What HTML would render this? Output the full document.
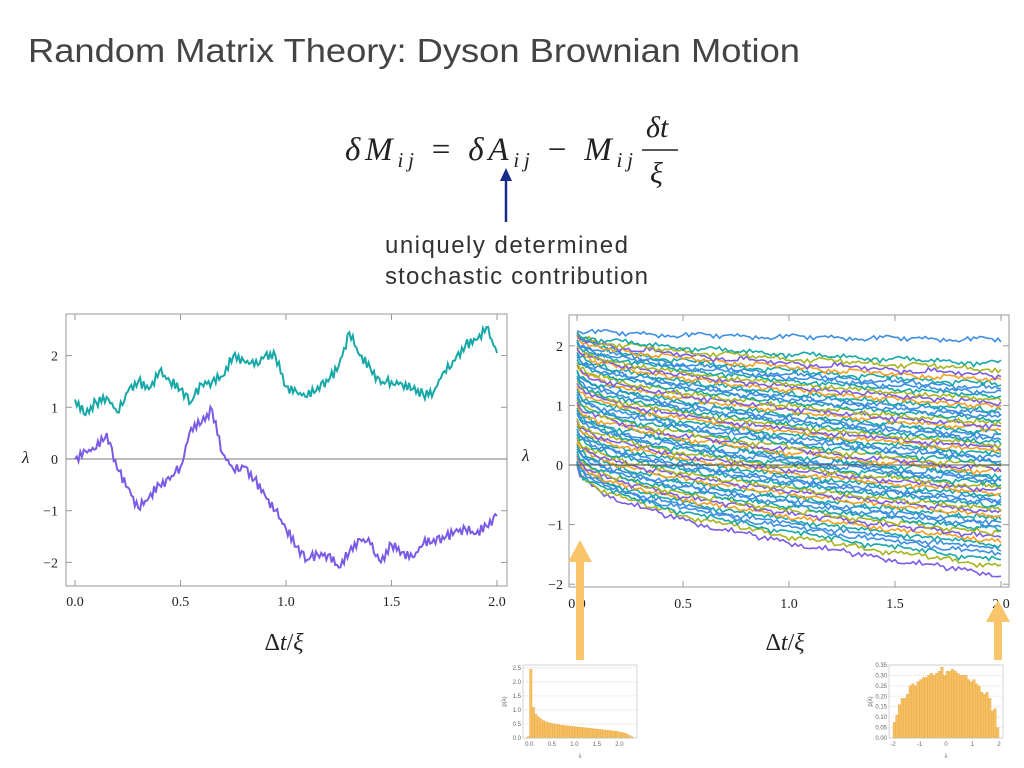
<!DOCTYPE html>
<html><head><meta charset="utf-8"><style>
html,body{margin:0;padding:0;background:#fff;width:1024px;height:768px;overflow:hidden}
svg{display:block}
.tk{font-family:"Liberation Serif",serif;font-size:14px;fill:#222}
.htk{font-family:"Liberation Sans",sans-serif;font-size:6px;fill:#666}
</style></head><body>
<svg id="s" width="1024" height="768">
<text x="28" y="62" font-family="Liberation Sans, sans-serif" font-size="33" fill="#444" textLength="772" lengthAdjust="spacingAndGlyphs">Random Matrix Theory:  Dyson Brownian Motion</text>
<text x="345" y="160" font-family="Liberation Serif, serif" font-size="33" font-style="italic" fill="#222" textLength="288">δM<tspan font-size="21" dy="7">ij</tspan><tspan dy="-7" font-style="normal"> = </tspan>δA<tspan font-size="21" dy="7">ij</tspan><tspan dy="-7" font-style="normal"> − </tspan>M<tspan font-size="21" dy="7">ij</tspan></text>
<text x="646" y="137" font-family="Liberation Serif, serif" font-size="30" font-style="italic" fill="#222">δt</text>
<line x1="642" y1="150" x2="678" y2="150" stroke="#222" stroke-width="1.5"/>
<text x="650" y="183" font-family="Liberation Serif, serif" font-size="30" font-style="italic" fill="#222">ξ</text>
<g><line x1="506" y1="222" x2="506" y2="180" stroke="#1a2a8a" stroke-width="2.5"/><polygon points="500,181 512,181 506,168" fill="#1a2a8a"/></g>
<text x="385" y="253" font-family="Liberation Sans, sans-serif" font-size="24" fill="#333" textLength="243">uniquely determined</text>
<text x="385" y="284" font-family="Liberation Sans, sans-serif" font-size="24" fill="#333" textLength="263">stochastic contribution</text>
<g id="L"></g>
<g id="R"></g>
<g id="H1"></g>
<g id="H2"></g>
<g><rect x="576" y="560" width="8" height="100" fill="#f8c56a"/><polygon points="568,562 592,562 580,540" fill="#f8c56a"/></g>
<g><rect x="994" y="620" width="8" height="40" fill="#f8c56a"/><polygon points="986,622 1010,622 998,600" fill="#f8c56a"/></g>
</svg>
<script>
const NS="http://www.w3.org/2000/svg";
const tGrid=[0,0.05,0.1,0.15,0.2,0.25,0.3,0.35,0.4,0.45,0.5,0.55,0.6,0.65,0.7,0.75,0.8,0.85,0.9,0.95,1.0,1.05,1.1,1.15,1.2,1.25,1.3,1.35,1.4,1.45,1.5,1.55,1.6,1.65,1.7,1.75,1.8,1.85,1.9,1.95,2.0];
const tealVals=[1.15,0.85,1.1,1.2,0.9,1.3,1.5,1.35,1.7,1.5,1.35,1.1,1.45,1.5,1.6,2.0,1.9,1.8,2.0,2.0,1.4,1.3,1.2,1.4,1.5,1.8,2.45,2.0,1.75,1.45,1.5,1.45,1.35,1.25,1.3,1.7,1.9,2.2,2.3,2.55,2.05];
const purpleVals=[0,0.15,0.2,0.5,-0.2,-0.55,-0.95,-0.75,-0.5,-0.4,-0.15,0.6,0.7,0.95,0.1,-0.2,-0.15,-0.4,-0.7,-1.0,-1.35,-1.7,-1.95,-1.85,-1.85,-2.1,-1.8,-1.55,-1.65,-2.0,-1.65,-1.8,-1.9,-1.65,-1.55,-1.55,-1.4,-1.35,-1.45,-1.3,-1.1];
const xTicks=["0.0","0.5","1.0","1.5","2.0"];
const yTicksL=[-2,-1,0,1,2];
const wiggle=[0.06,-0.05,0.09,-0.07,0.03,-0.08,0.05,-0.02,0.07,-0.06,0.02,-0.04,0.08,-0.09,0.04,-0.03,0.06,-0.07,0.01,-0.05,0.09,-0.02,0.05,-0.06,0.03,-0.08,0.07,-0.01,0.04,-0.05,0.02];
const startVals=[0.0,0.01,0.03,0.05,0.07,0.1,0.13,0.16,0.19,0.23,0.27,0.31,0.35,0.39,0.43,0.47,0.52,0.56,0.6,0.65,0.69,0.74,0.78,0.83,0.87,0.92,0.96,1.01,1.05,1.1,1.14,1.19,1.23,1.28,1.32,1.37,1.41,1.46,1.5,1.55,1.59,1.64,1.68,1.72,1.77,1.81,1.85,1.89,1.93,1.97,2.0,2.04,2.07,2.1,2.13,2.16,2.19,2.21,2.23,2.25];
const endVals=[-1.85,-1.7,-1.6,-1.5,-1.42,-1.35,-1.28,-1.21,-1.15,-1.09,-1.03,-0.97,-0.91,-0.86,-0.8,-0.75,-0.69,-0.64,-0.59,-0.53,-0.48,-0.43,-0.38,-0.33,-0.28,-0.23,-0.18,-0.13,-0.08,-0.03,0.03,0.08,0.13,0.18,0.23,0.28,0.33,0.38,0.43,0.48,0.53,0.59,0.64,0.69,0.75,0.8,0.86,0.91,0.97,1.03,1.09,1.15,1.21,1.28,1.35,1.42,1.5,1.6,1.7,2.1];
const palette=["#7b5be6","#18a8a8","#3d8ee0","#a6b41e","#f4a020","#3d8ee0","#18a8a8"];
const hist1Vals=[0.05,2.45,1.1,0.85,0.75,0.68,0.62,0.58,0.55,0.53,0.51,0.49,0.48,0.46,0.45,0.44,0.43,0.42,0.41,0.40,0.39,0.38,0.37,0.36,0.35,0.34,0.33,0.32,0.31,0.30,0.29,0.28,0.27,0.26,0.25,0.24,0.22,0.2,0.18,0.15,0.1,0.05];
const hist2Vals=[0.075,0.11,0.16,0.19,0.19,0.21,0.25,0.26,0.25,0.27,0.28,0.29,0.29,0.3,0.31,0.3,0.31,0.32,0.34,0.3,0.32,0.32,0.33,0.32,0.31,0.3,0.3,0.3,0.28,0.27,0.28,0.26,0.25,0.22,0.21,0.22,0.19,0.13,0.14,0.05];

function el(tag,attrs,parent){const e=document.createElementNS(NS,tag);for(const k in attrs)e.setAttribute(k,attrs[k]);parent.appendChild(e);return e;}
function frame(g,x0,y0,x1,y1){
  const f=el("rect",{x:x0,y:y0,width:x1-x0,height:y1-y0,fill:"none",stroke:"#999","stroke-width":1},g);
  
  
}

(function(){
  const g=document.getElementById("L");
  const X=t=>75+t*(497-75)/2, Y=v=>459-v*51.7;
  frame(g,66,314,507,586);
  for(let i=0;i<xTicks.length;i++){
    const x=X(+xTicks[i]);
    el("line",{x1:x,y1:586,x2:x,y2:580,stroke:"#999"},g);el("line",{x1:x,y1:314,x2:x,y2:320,stroke:"#999"},g);
    const t=el("text",{x:x,y:606,"text-anchor":"middle",class:"tk"},g);t.textContent=xTicks[i];
    
    
  }
  for(const v of yTicksL){
    const y=Y(v);
    el("line",{x1:66,y1:y,x2:72,y2:y,stroke:"#999"},g);el("line",{x1:507,y1:y,x2:501,y2:y,stroke:"#999"},g);
    const t=el("text",{x:58,y:y+5,"text-anchor":"end",class:"tk"},g);t.textContent=v<0?"−"+(-v):v;
    
    
  }
  const z=el("line",{x1:66,y1:Y(0),x2:507,y2:Y(0),stroke:"#777"},g);
  
  
  function series(vals,col,name,off){
    let d="";
    for(let i=0;i<vals.length;i++){
      const sub=i<vals.length-1?6:1;
      for(let k=0;k<sub;k++){
        const f=k/6; const t=tGrid[i]+(i<vals.length-1?(tGrid[i+1]-tGrid[i])*f:0);
        const v=vals[i]+(i<vals.length-1?(vals[i+1]-vals[i])*f:0)+(k?wiggle[(i*5+k*3+off)%wiggle.length]*1.1:0);
        d+=(d?"L":"M")+X(t).toFixed(1)+","+Y(v).toFixed(1);
      }
    }
    const p=el("path",{d:d,fill:"none",stroke:col,"stroke-width":2},g);
    
    
  }
  series(tealVals,"#18a8a8","series-upper-eigenvalue",0);
  series(purpleVals,"#7b5be6","series-lower-eigenvalue",7);
  const yl=el("text",{x:22,y:463,"font-family":"Liberation Serif, serif","font-size":17,"font-style":"italic",fill:"#222"},g);yl.textContent="λ";
  
  
  const xl=el("text",{x:284,y:650,"text-anchor":"middle","font-family":"Liberation Serif, serif","font-size":24,fill:"#222"},g);xl.innerHTML='Δ<tspan font-style="italic">t</tspan>/<tspan font-style="italic">ξ</tspan>';
  
  
})();

(function(){
  const g=document.getElementById("R");
  const X=t=>577+t*(1001-577)/2, Y=v=>465-v*59.6;
  frame(g,569,315,1009,587);
  for(let i=0;i<xTicks.length;i++){
    const x=X(+xTicks[i]);
    el("line",{x1:x,y1:587,x2:x,y2:581,stroke:"#999"},g);el("line",{x1:x,y1:315,x2:x,y2:321,stroke:"#999"},g);
    const t=el("text",{x:x,y:608,"text-anchor":"middle",class:"tk"},g);t.textContent=xTicks[i];
    
    
  }
  for(const v of yTicksL){
    const y=Y(v);
    el("line",{x1:569,y1:y,x2:575,y2:y,stroke:"#999"},g);el("line",{x1:1009,y1:y,x2:1003,y2:y,stroke:"#999"},g);
    const t=el("text",{x:563,y:y+5,"text-anchor":"end",class:"tk"},g);t.textContent=v<0?"−"+(-v):v;
    
    
  }
  const L=wiggle.length;
  for(let i=0;i<startVals.length;i++){
    let d="";
    const N=140;
    let acc=0;
    for(let k=0;k<=N;k++){
      const t=2*k/N, w=Math.sqrt(t/2);
      if(k) acc=acc*0.9+wiggle[(i*11+k*7)%L]*0.35+wiggle[(i*3+k*13)%L]*0.2;
      const v=startVals[i]+(endVals[i]-startVals[i])*w+acc+(k?wiggle[(i*17+k)%L]*0.25:0);
      d+=(d?"L":"M")+X(t).toFixed(1)+","+Y(v).toFixed(1);
    }
    const p=el("path",{d:d,fill:"none",stroke:palette[(i*3)%palette.length],"stroke-width":1.6},g);
    
    
  }
  const z=el("line",{x1:569,y1:Y(0),x2:1009,y2:Y(0),stroke:"#555"},g);
  
  
  const yl=el("text",{x:522,y:461,"font-family":"Liberation Serif, serif","font-size":17,"font-style":"italic",fill:"#222"},g);yl.textContent="λ";
  
  
  const xl=el("text",{x:785,y:650,"text-anchor":"middle","font-family":"Liberation Serif, serif","font-size":24,fill:"#222"},g);xl.innerHTML='Δ<tspan font-style="italic">t</tspan>/<tspan font-style="italic">ξ</tspan>';
  
  
})();

function hist(id,vals,x0,x1,y0,y1,xmin,xmax,ymax,xt,yt,xd,yd){
  const g=document.getElementById(id);
  const X=v=>x0+4+(v-xmin)/(xmax-xmin)*(x1-x0-8), Y=v=>y1-v/ymax*(y1-y0);
  for(const v of yt){el("line",{x1:x0,y1:Y(v),x2:x1,y2:Y(v),stroke:"#ddd","stroke-dasharray":"1,1"},g);
    const t=el("text",{x:x0-2,y:Y(v)+2,"text-anchor":"end",class:"htk"},g);t.textContent=v.toFixed(yd);
    
    }
  for(const v of xt){const t=el("text",{x:X(v),y:y1+8,"text-anchor":"middle",class:"htk"},g);t.textContent=v.toFixed(xd);
    
    }
  const bw=(x1-x0-8)/vals.length;
  for(let i=0;i<vals.length;i++){
    const b=el("rect",{x:x0+4+i*bw,y:Y(vals[i]),width:bw,height:y1-Y(vals[i]),fill:"#f6c060",stroke:"#e0a040","stroke-width":0.3},g);
    
    
  }
  el("rect",{x:x0,y:y0,width:x1-x0,height:y1-y0,fill:"none",stroke:"#bbb","stroke-width":0.6},g);
  const a=el("text",{x:(x0+x1)/2,y:y1+20,"text-anchor":"middle",class:"htk"},g);a.textContent="λ";
  
  
  const yl=el("text",{x:x0-17,y:(y0+y1)/2,"text-anchor":"middle",class:"htk",transform:`rotate(-90 ${x0-17} ${(y0+y1)/2})`},g);yl.textContent="p(λ)";
  
  
}
hist("H1",hist1Vals,523,637,665,738,-0.05,2.3,2.6,[0.0,0.5,1.0,1.5,2.0],[0.0,0.5,1.0,1.5,2.0,2.5],1,1);
hist("H2",hist2Vals,889,1003,665,738,-2,2,0.35,[-2,-1,0,1,2],[0.00,0.05,0.10,0.15,0.20,0.25,0.30,0.35],0,2);
</script>
</body></html>
